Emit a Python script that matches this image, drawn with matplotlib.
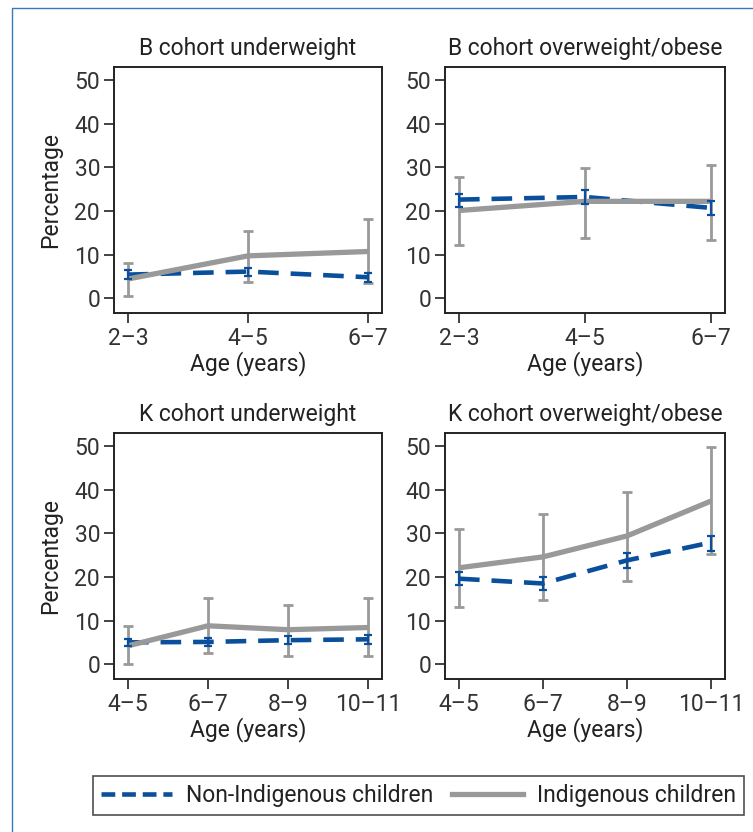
import matplotlib
matplotlib.use("Agg")
import matplotlib.pyplot as plt
from matplotlib.lines import Line2D
from matplotlib.patches import Rectangle

plt.rcParams['font.family'] = ['Roboto', 'DejaVu Sans']

# age groups
b_ages = ['2\u20133', '4\u20135', '6\u20137']
k_ages = ['4\u20135', '6\u20137', '8\u20139', '10\u201311']

# B cohort underweight
bu_non = [5.4, 6.1, 4.8]
bu_non_lo = [4.4, 5.1, 3.8]
bu_non_hi = [6.4, 7.0, 5.7]
bu_ind = [4.4, 9.7, 10.7]
bu_ind_lo = [0.4, 3.8, 3.4]
bu_ind_hi = [8.0, 15.5, 18.2]

# B cohort overweight/obese
bo_non = [22.6, 23.2, 20.7]
bo_non_lo = [20.8, 21.6, 19.1]
bo_non_hi = [23.9, 24.7, 22.2]
bo_ind = [20.1, 22.2, 22.2]
bo_ind_lo = [12.3, 13.9, 13.4]
bo_ind_hi = [27.8, 29.9, 30.6]

# K cohort underweight
ku_non = [5.0, 5.1, 5.5, 5.7]
ku_non_lo = [4.2, 4.2, 4.6, 4.7]
ku_non_hi = [5.7, 6.0, 6.4, 6.7]
ku_ind = [4.2, 8.8, 7.9, 8.4]
ku_ind_lo = [0.0, 2.5, 1.9, 1.9]
ku_ind_hi = [8.8, 15.1, 13.6, 15.1]

# K cohort overweight/obese
ko_non = [19.6, 18.5, 23.8, 27.9]
ko_non_lo = [18.2, 17.0, 22.1, 26.0]
ko_non_hi = [21.1, 20.0, 25.4, 29.5]
ko_ind = [22.1, 24.6, 29.4, 37.4]
ko_ind_lo = [13.1, 14.7, 19.1, 25.2]
ko_ind_hi = [31.1, 34.4, 39.5, 49.8]

BLUE = '#0a4f9c'
GREY = '#999999'
TXT = '#333333'
FS = 16.5

fig = plt.figure(figsize=(7.53, 8.32), dpi=100)

# frame lines along top and left
fig.add_artist(Rectangle((12 / 753, -0.1), 1.2, 1 - 8 / 832 + 0.1,
                         transform=fig.transFigure, fill=False,
                         edgecolor='#3a78b8', lw=1.0, clip_on=False))

panels = [
    ('B cohort underweight', b_ages, bu_non, bu_non_lo, bu_non_hi, bu_ind, bu_ind_lo, bu_ind_hi,
     [114 / 753, 1 - 313 / 832, 268 / 753, 246 / 832], True),
    ('B cohort overweight/obese', b_ages, bo_non, bo_non_lo, bo_non_hi, bo_ind, bo_ind_lo, bo_ind_hi,
     [445 / 753, 1 - 313 / 832, 280 / 753, 246 / 832], False),
    ('K cohort underweight', k_ages, ku_non, ku_non_lo, ku_non_hi, ku_ind, ku_ind_lo, ku_ind_hi,
     [114 / 753, 1 - 679 / 832, 268 / 753, 246 / 832], True),
    ('K cohort overweight/obese', k_ages, ko_non, ko_non_lo, ko_non_hi, ko_ind, ko_ind_lo, ko_ind_hi,
     [445 / 753, 1 - 679 / 832, 280 / 753, 246 / 832], False),
]

for title, ages, non, non_lo, non_hi, ind, ind_lo, ind_hi, rect, ylab in panels:
    ax = fig.add_axes(rect)
    x = list(range(len(ages)))
    ind_err = [[m - l for m, l in zip(ind, ind_lo)], [h - m for m, h in zip(ind, ind_hi)]]
    non_err = [[m - l for m, l in zip(non, non_lo)], [h - m for m, h in zip(non, non_hi)]]

    ax.errorbar(x, ind, yerr=ind_err, fmt='none', ecolor=GREY, elinewidth=2,
                capsize=3.6, capthick=2, zorder=2)
    ax.plot(x, non, color=BLUE, lw=3.3, dashes=(4.5, 2.6), zorder=3)
    ax.plot(x, ind, color=GREY, lw=3.8, solid_capstyle='butt', zorder=4)
    ax.errorbar(x, non, yerr=non_err, fmt='none', ecolor=BLUE, elinewidth=1.6,
                capsize=3.0, capthick=1.6, zorder=5)

    n = len(ages) - 1
    pad = 14 / ((rect[2] * 753 - 28) / n)
    ax.set_xlim(-pad, n + pad)
    ax.set_ylim(-3.4, 53)
    ax.set_xticks(x)
    ax.set_xticklabels(ages)
    ax.set_yticks([0, 10, 20, 30, 40, 50])
    ax.tick_params(labelsize=FS, length=7, width=1.2, pad=3,
                   colors='#222222', labelcolor=TXT)
    for s in ax.spines.values():
        s.set_color('#222222')
        s.set_linewidth(1.4)
    ax.set_title(title, fontsize=FS, color='#222222', pad=9)
    ax.set_xlabel('Age (years)', fontsize=FS, color='#222222', labelpad=1)
    if ylab:
        ax.set_ylabel('Percentage', fontsize=FS, color='#222222', labelpad=9)

handles = [Line2D([], [], color=BLUE, lw=3.3, dashes=(3.0, 1.5)),
           Line2D([], [], color=GREY, lw=3.8)]
leg = fig.legend(handles, ['Non-Indigenous children', 'Indigenous children'],
                 loc='lower left', bbox_to_anchor=(93 / 753, 1 - 815 / 832, 651 / 753, 43 / 832),
                 mode='expand', ncol=2, fontsize=FS, frameon=True, fancybox=False,
                 handlelength=3.1, handletextpad=0.6, borderaxespad=0, borderpad=0.35,
                 columnspacing=1.0, labelcolor='#222222')
leg.get_frame().set_edgecolor('#222222')
leg.get_frame().set_linewidth(1.2)

fig.savefig('out.png', dpi=100)
